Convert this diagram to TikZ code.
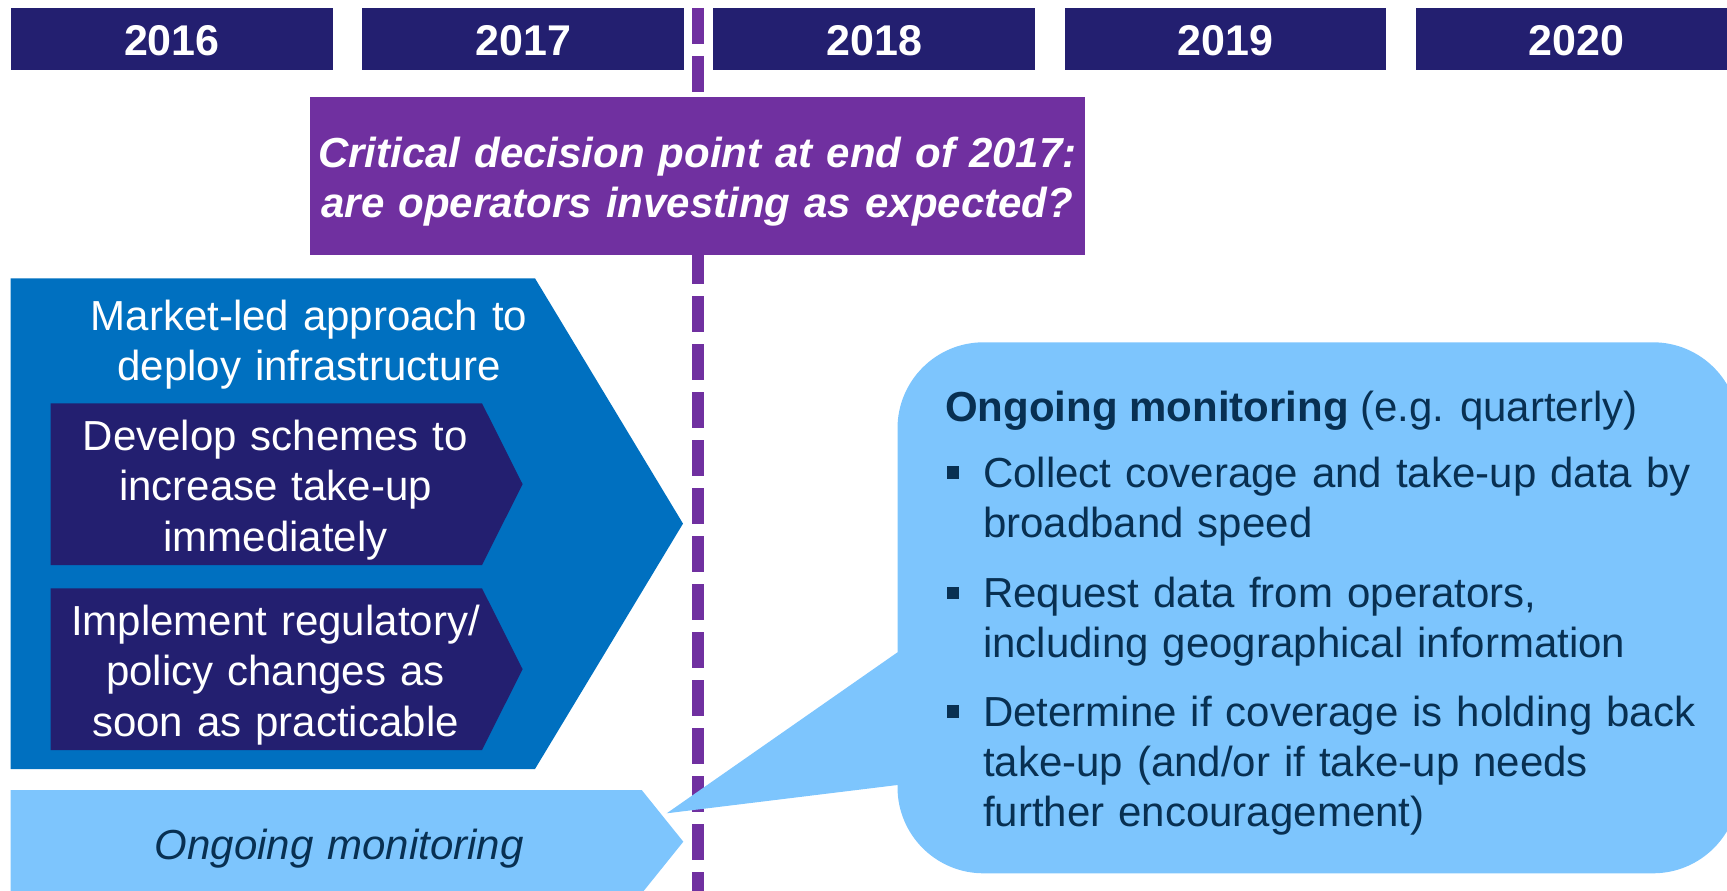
\documentclass[tikz,border=0pt]{standalone}
\usepackage{fontspec}
\setmainfont{Liberation Sans}
\definecolor{barnavy}{RGB}{35,31,112}
\definecolor{decpurple}{RGB}{112,48,160}
\definecolor{mktblue}{RGB}{0,112,192}
\definecolor{skyblue}{RGB}{125,197,253}
\definecolor{inknavy}{RGB}{8,48,82}
\begin{document}
\begin{tikzpicture}[x=1pt,y=-1pt,
  yearbar/.style={fill=barnavy, text=white, inner sep=0pt,
    minimum width=321.8pt, minimum height=62pt,
    text height=34pt, text depth=0pt,
    font=\bfseries\fontsize{43}{50}\selectfont},
  bodytext/.style={inner sep=0pt, anchor=base, align=center,
    text width=#1},
  bodytext/.default=480pt,
  sqbullet/.style={fill=inknavy, inner sep=0pt, minimum size=12.5pt},
  bullettext/.style={inner sep=0pt, anchor=base west, align=left,
    text width=740pt, text=inknavy,
    font=\fontsize{42}{50}\selectfont}
]
\useasboundingbox (0,0) rectangle (1727,891);
\clip (0,0) rectangle (1727,891);

% decision line at the end of 2017
\coordinate (dtop) at (697.7,8);
\coordinate (dbot) at (697.7,910);
\draw[decpurple, line width=11.8pt, dash pattern=on 36pt off 12pt]
  (dtop) -- (dbot);

% year headers
\foreach \yr [count=\i from 0] in {2016,2017,2018,2019,2020}
  \node[yearbar] (y\yr) at ({171.9+351.2*\i},39) {\yr};

% decision point box
\node[fill=decpurple, inner sep=0pt, minimum width=775.5pt,
  minimum height=158pt] (decbox) at (697.3,176) {};
\node[bodytext=770pt, text=white,
  font=\bfseries\itshape\fontsize{42}{50}\selectfont] (dectext)
  at (697.3,167)
  {Critical decision point at end of 2017:\\are operators investing as expected?};

% market-led chevron with its two inner steps
\fill[mktblue] (10.6,278.3) -- (535,278.3) -- (683,523.6)
  -- (535,769) -- (10.6,769) -- cycle;
\fill[barnavy] (50.5,403.3) -- (482,403.3) -- (522.6,484.2)
  -- (482,565) -- (50.5,565) -- cycle;
\fill[barnavy] (50.5,588.3) -- (482,588.3) -- (522.6,669.2)
  -- (482,750) -- (50.5,750) -- cycle;

\node[bodytext, text=white, font=\fontsize{42}{49.5}\selectfont] (mkt)
  at (309,330.7) {Market-led approach to\\deploy infrastructure};
\node[bodytext, text=white, font=\fontsize{42}{50.8}\selectfont] (dev)
  at (275.5,450) {Develop schemes to\\increase take-up\\immediately};
\node[bodytext, text=white, font=\fontsize{42}{50.8}\selectfont] (impl)
  at (275.5,635) {Implement regulatory/\\policy changes as\\soon as practicable};

% ongoing monitoring chevron
\fill[skyblue] (10.6,790) -- (641.7,790) -- (683.3,841.7)
  -- (641.7,893.4) -- (10.6,893.4) -- cycle;
\node[bodytext, text=inknavy, font=\itshape\fontsize{42}{50}\selectfont]
  (mon) at (339.3,859.3) {Ongoing monitoring};

% callout with its pointer
\fill[skyblue, rounded corners=86pt] (897.5,342.3) rectangle (1739,873.3);
\fill[skyblue] (666.7,813.3) -- (897.5,652.3) -- (912,652.3)
  -- (912,785) -- (897.5,785) -- cycle;

\node[inner sep=0pt, anchor=base west, text=inknavy,
  font=\fontsize{42}{50}\selectfont] (mhead) at (945,421.5)
  {\textbf{Ongoing monitoring} (e.g. quarterly)};

\node[sqbullet] (b1) at (953,472.5) {};
\node[bullettext] (t1) at (983,487)
  {Collect coverage and take-up data by\\broadband speed};
\node[sqbullet] (b2) at (953,593) {};
\node[bullettext] (t2) at (983,607.5)
  {Request data from operators,\\including geographical information};
\node[sqbullet] (b3) at (953,711.5) {};
\node[bullettext] (t3) at (983,726)
  {Determine if coverage is holding back\\take-up (and/or if take-up needs\\further encouragement)};
\end{tikzpicture}
\end{document}
